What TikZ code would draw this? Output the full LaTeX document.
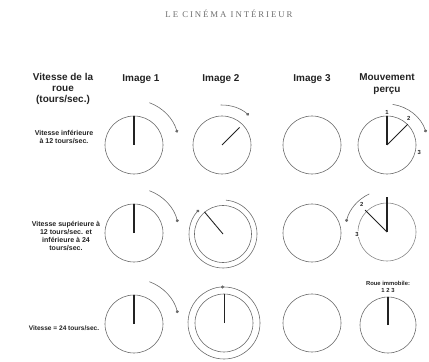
\documentclass[tikz,border=0pt]{standalone}
\usepackage{fontspec}
\setmainfont{Liberation Sans}
\newfontfamily\titlefont[LetterSpace=22]{Liberation Serif}
\usepackage{tikz}
\usetikzlibrary{arrows.meta, positioning, calc}
\definecolor{inkgray}{RGB}{35,35,35}
\definecolor{rimgray}{RGB}{105,105,105}
\definecolor{titlegray}{RGB}{110,110,110}
\tikzset{
  wheel/.style={circle, draw=rimgray, line width=0.5pt, minimum size=1.74cm,
    inner sep=0pt},
  spoke/.style={draw=inkgray, line width=1pt},
  turn/.style={-{Circle[length=2.6pt]}, draw=rimgray, line width=0.5pt},
  colhead/.style={font=\fontsize{8.5}{9.6}\selectfont\bfseries, align=center,
    text=inkgray},
  rowhead/.style={font=\fontsize{6}{7}\selectfont\bfseries, align=center,
    text=inkgray},
  tick/.style={font=\fontsize{5}{5.5}\selectfont\bfseries, text=inkgray,
    inner sep=0.5pt, align=center},
}

\begin{document}
\begin{tikzpicture}[x=0.03cm, y=0.03cm]
  \useasboundingbox (0,0) rectangle (429,361);

  % Title
  \node[font=\titlefont\fontsize{7.5}{8}\selectfont, text=titlegray] (title)
    at (229,347) {LE CINÉMA INTÉRIEUR};

  % Column headers
  \node[colhead] (hspeed) at (63,272) {Vitesse de la\\roue\\(tours/sec.)};
  \node[colhead] (himgA) at (141,282) {Image 1};
  \node[colhead] (himgB) at (221,282) {Image 2};
  \node[colhead] (himgC) at (312,282) {Image 3};
  \node[colhead] (hseen) at (387,277) {Mouvement\\perçu};

  % Row labels
  \node[rowhead] (lslow) at (64,224) {Vitesse inférieure\\à 12 tours/sec.};
  \node[rowhead] (lmid) at (66,125) {Vitesse supérieure à\\12 tours/sec. et\\inférieure à 24\\tours/sec.};
  \node[rowhead, font=\fontsize{5.6}{7}\selectfont\bfseries] (lsync) at (64,33)
    {Vitesse = 24 tours/sec.};

  % Row 1: slow wheel
  \node[wheel] (slowA) at (134,216) {};
  \node[wheel] (slowB) at (222,216) {};
  \node[wheel] (slowC) at (312,216) {};
  \node[wheel] (slowP) at (387,216) {};
  \draw[spoke] (slowA.center) -- (slowA.north);
  \draw[turn] (slowA.center) ++(70:45) arc[start angle=70, end angle=16, radius=45];
  \draw[spoke, line width=0.75pt] (slowB.center) -- ($(slowB.center)!0.85!(slowB.45)$);
  \draw[turn] (slowB.center) ++(92:40) arc[start angle=92, end angle=48, radius=40];
  \draw[spoke] (slowP.center) -- (slowP.north);
  \draw[spoke, line width=0.75pt] (slowP.center) -- (slowP.45);
  \node[tick, above=0pt of slowP.north] (slowPa) {1};
  \node[tick] (slowPb) at ($(slowP.center)+(50:34)$) {2};
  \node[tick] (slowPc) at ($(slowP.center)+(-13:33)$) {3};
  \draw[turn] (slowP.center) ++(82:41) arc[start angle=82, end angle=18, radius=41];

  % Row 2: between 12 and 24
  \node[wheel] (midA) at (134,128) {};
  \node[wheel, minimum size=1.71cm] (midB) at (223,127) {};
  \node[wheel] (midC) at (312,128) {};
  \node[wheel, draw=rimgray!80] (midP) at (387,129) {};
  \draw[spoke] (midA.center) -- (midA.north);
  \draw[turn] (midA.center) ++(70:45) arc[start angle=70, end angle=14, radius=45];
  \draw[spoke, line width=0.75pt] (midB.center) -- (midB.130);
  \draw[turn] (midB.center) ++(85:34) arc[start angle=85, end angle=-225, radius=34];
  \draw[spoke] (midP.center) -- ($(midP.center)+(90:35)$);
  \draw[spoke, line width=0.75pt] (midP.center) -- ($(midP.center)+(135:31)$);
  \node[tick] (midPb) at ($(midP.center)+(133:37)$) {2};
  \node[tick, fill=white] (midPc) at ($(midP.center)+(184:30)$) {3};
  \draw[turn] (midP.center) ++(115:42) arc[start angle=115, end angle=166, radius=42];

  % Row 3: 24 tours/sec.
  \node[wheel] (syncA) at (134,37) {};
  \node[wheel] (syncB) at (224,38) {};
  \node[wheel] (syncC) at (312,38) {};
  \node[wheel, minimum size=1.68cm] (syncP) at (388,36) {};
  \draw[spoke] (syncA.center) -- (syncA.north);
  \draw[turn] (syncA.center) ++(70:45) arc[start angle=70, end angle=14, radius=45];
  \draw[spoke, line width=0.75pt] (syncB.center) -- (syncB.north);
  \draw[turn] (syncB.center) ++(96:36) arc[start angle=96, end angle=-270, radius=36];
  \draw[spoke] (syncP.center) -- (syncP.north);
  \node[tick, above=3pt of syncP.north] (syncPa) {Roue immobile:\\1 2 3};
\end{tikzpicture}
\end{document}
